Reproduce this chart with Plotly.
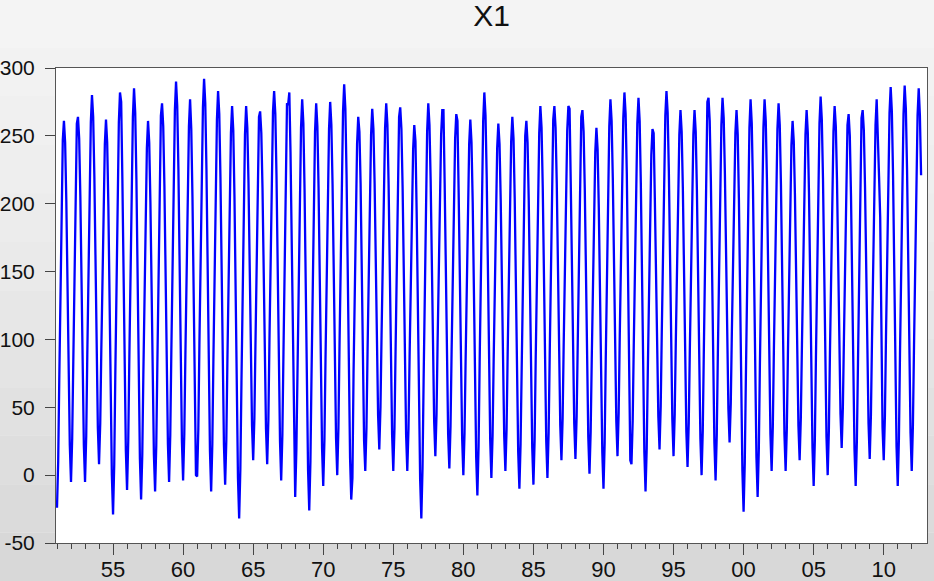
import pandas as pd
import plotly.graph_objects as go

# Monthly values of X1 (1951M01 - 2012M09)
x1_1951_1960 = [
    -24, 10, 70, 138, 198, 247, 261, 245, 202, 141, 75, 22,
    -5, 27, 84, 148, 205, 259, 264, 248, 205, 143, 76, 22,
    -5, 29, 89, 157, 217, 260, 280, 264, 220, 158, 90, 35,
    8, 38, 92, 153, 206, 244, 262, 245, 198, 131, 58, 0,
    -29, 8, 74, 148, 214, 260, 282, 275, 218, 150, 77, 18,
    -11, 25, 87, 158, 220, 264, 285, 267, 218, 149, 73, 12,
    -18, 15, 74, 141, 200, 241, 261, 245, 201, 138, 70, 15,
    -12, 22, 82, 151, 211, 265, 274, 257, 213, 148, 79, 23,
    -5, 30, 92, 163, 225, 269, 290, 272, 225, 158, 84, 25,
    -4, 30, 89, 156, 215, 257, 277, 255, 205, 140, 70, 0,
]
x1_1961_1970 = [
    -1, 34, 96, 166, 228, 271, 292, 274, 225, 155, 79, 18,
    -12, 23, 85, 156, 218, 262, 283, 266, 219, 152, 80, 22,
    -7, 26, 85, 152, 211, 252, 272, 254, 205, 135, 59, -2,
    -32, 4, 68, 141, 205, 251, 272, 256, 215, 155, 89, 37,
    11, 42, 96, 157, 211, 264, 268, 252, 211, 151, 86, 34,
    8, 41, 99, 165, 223, 268, 283, 266, 220, 154, 82, 25,
    -4, 30, 90, 159, 230, 274, 273, 282, 238, 165, 85, 15,
    -16, 19, 81, 151, 213, 256, 277, 259, 210, 141, 65, 4,
    -26, 10, 73, 145, 208, 253, 274, 257, 212, 147, 77, 20,
    -8, 26, 85, 153, 213, 255, 275, 258, 214, 151, 82, 27,
]
x1_1971_1980 = [
    0, 35, 95, 164, 225, 268, 288, 270, 221, 150, 74, 13,
    -18, -2, 75, 143, 202, 244, 264, 253, 215, 150, 85, 25,
    3, 35, 91, 155, 211, 251, 270, 255, 215, 157, 94, 44,
    19, 50, 103, 164, 218, 256, 274, 258, 214, 152, 84, 30,
    3, 35, 91, 156, 212, 264, 271, 255, 212, 150, 83, 30,
    3, 34, 87, 148, 202, 240, 258, 246, 194, 127, 55, -3,
    -32, 5, 69, 142, 207, 253, 274, 258, 217, 157, 92, 40,
    14, 45, 98, 159, 213, 251, 269, 269, 215, 152, 85, 30,
    5, 36, 91, 154, 209, 248, 266, 261, 208, 146, 80, 27,
    0, 31, 86, 149, 204, 244, 262, 245, 201, 137, 68, 13,
]
x1_1981_1990 = [
    -15, 21, 83, 154, 217, 261, 282, 265, 220, 154, 83, 26,
    -2, 29, 84, 147, 202, 241, 259, 244, 203, 144, 80, 29,
    3, 34, 89, 152, 207, 246, 264, 248, 204, 141, 72, 17,
    -10, 23, 79, 144, 201, 250, 261, 245, 202, 140, 73, 20,
    -7, 26, 85, 152, 211, 252, 272, 256, 212, 149, 80, 25,
    -2, 31, 88, 154, 212, 262, 272, 256, 215, 155, 89, 37,
    11, 42, 97, 160, 215, 254, 272, 270, 215, 155, 90, 38,
    12, 43, 97, 158, 212, 264, 269, 253, 210, 148, 81, 28,
    1, 32, 85, 146, 200, 238, 256, 240, 197, 136, 70, 17,
    -10, 24, 85, 154, 214, 257, 277, 261, 219, 159, 93, 40,
]
x1_1991_2000 = [
    14, 46, 102, 167, 223, 263, 282, 266, 222, 159, 90, 11,
    8, 40, 97, 162, 219, 259, 278, 261, 214, 147, 75, 17,
    -12, 20, 76, 140, 196, 236, 255, 252, 203, 149, 90, 43,
    19, 51, 106, 169, 225, 265, 283, 267, 224, 162, 95, 41,
    14, 45, 98, 159, 213, 251, 269, 253, 211, 151, 85, 32,
    6, 38, 93, 156, 211, 251, 269, 253, 210, 148, 81, 27,
    0, 33, 92, 158, 217, 275, 278, 261, 216, 151, 81, 24,
    -4, 30, 89, 157, 216, 258, 278, 263, 222, 164, 100, 49,
    24, 53, 105, 164, 215, 252, 269, 251, 204, 136, 62, 3,
    -27, 9, 73, 146, 210, 256, 277, 259, 213, 145, 72, 13,
]
x1_2001_2012 = [
    -16, 19, 81, 151, 213, 256, 277, 261, 217, 154, 85, 30,
    3, 36, 92, 157, 214, 255, 274, 258, 214, 152, 84, 30,
    3, 34, 88, 150, 204, 243, 261, 246, 206, 149, 86, 36,
    11, 42, 96, 158, 212, 251, 269, 252, 208, 144, 75, 20,
    -8, 26, 87, 156, 216, 259, 279, 262, 218, 153, 84, 28,
    0, 33, 90, 155, 212, 253, 272, 257, 217, 159, 96, 45,
    20, 50, 101, 160, 212, 258, 266, 250, 206, 143, 74, 19,
    -8, 25, 83, 150, 208, 263, 269, 254, 212, 153, 89, 38,
    12, 44, 99, 163, 219, 258, 277, 255, 220, 190, 105, 35,
    11, 44, 102, 168, 226, 267, 286, 268, 221, 154, 80, 21,
    -8, 27, 89, 160, 222, 266, 287, 270, 225, 159, 88, 31,
    3, 37, 96, 164, 223, 265, 285, 265, 221,
]

start_month = "1951-01-01"
x_tick_years = [1955, 1960, 1965, 1970, 1975, 1980, 1985, 1990, 1995, 2000, 2005, 2010]
x_tick_labels = ["55", "60", "65", "70", "75", "80", "85", "90", "95", "00", "05", "10"]
y_tick_values = [-50, 0, 50, 100, 150, 200, 250, 300]
y_tick_labels = ["-50", "0", "50", "100", "150", "200", "250", "300"]

values = (x1_1951_1960 + x1_1961_1970 + x1_1971_1980 +
          x1_1981_1990 + x1_1991_2000 + x1_2001_2012)
dates = pd.date_range(start_month, periods=len(values), freq="MS")

fig = go.Figure()
fig.add_trace(go.Scatter(
    x=dates, y=values, mode="lines",
    line=dict(color="#0000ff", width=2.3),
    hoverinfo="x+y", showlegend=False,
))

# background: light grey gradient outside the white plot area
bands = ["#f4f4f4", "#f2f2f2", "#f0f0f0", "#eeeeee", "#ececec", "#eaeaea",
         "#e7e7e7", "#e4e4e4", "#e1e1e1", "#dedede", "#dbdbdb", "#d8d8d8"]
top, bot = 1.0 + 68 / 475, -38 / 475
n = len(bands)
for i, c in enumerate(bands):
    y1 = top - (top - bot) * i / n
    y0 = top - (top - bot) * (i + 1) / n
    fig.add_shape(type="rect", xref="paper", yref="paper",
                  x0=-56 / 870, x1=1 + 8 / 870, y0=y0, y1=y1,
                  fillcolor=c, line=dict(width=0), layer="below")
fig.add_shape(type="rect", xref="paper", yref="paper", x0=0, x1=1, y0=0, y1=1,
              fillcolor="white", line=dict(width=0), layer="below")

major_ticks = [pd.Timestamp(f"{y}-01-01") for y in x_tick_years]
minor_ticks = [pd.Timestamp(f"{y}-01-01") for y in range(dates[0].year, dates[-1].year + 1)]

fig.update_layout(
    width=934, height=581, autosize=False,
    margin=dict(l=56, r=7, t=68, b=38, pad=0),
    paper_bgcolor="#f0f0f0", plot_bgcolor="white",
    font=dict(family="Arial, Liberation Sans, sans-serif", color="#111111"),
    title=dict(text="X1", x=0.5, xref="paper", y=1 - 15 / 581, yref="container",
               yanchor="middle", xanchor="center",
               font=dict(size=30, color="#111111")),
    xaxis=dict(
        range=[pd.Timestamp("1950-12-06"), pd.Timestamp("2013-02-02")],
        tickmode="array", tickvals=major_ticks, ticktext=x_tick_labels,
        ticks="outside", ticklen=11, tickwidth=1, tickcolor="#444444",
        tickfont=dict(size=22), showgrid=False, zeroline=False,
        showline=True, linecolor="#555555", linewidth=1, mirror=True,
        ticklabelstandoff=-4, automargin=False,
        minor=dict(tickmode="array", tickvals=minor_ticks, ticks="outside",
                   ticklen=5, tickwidth=1, tickcolor="#444444", showgrid=False),
    ),
    yaxis=dict(
        range=[-50, 300],
        tickmode="array", tickvals=y_tick_values, ticktext=y_tick_labels,
        ticks="outside", ticklen=10, tickwidth=1, tickcolor="#444444",
        tickfont=dict(size=21), showgrid=False, zeroline=False,
        showline=True, linecolor="#555555", linewidth=1, mirror=True,
        ticklabelstandoff=6, automargin=False,
    ),
)

fig.write_html(
    "out.html",
    config={"displayModeBar": False},
    post_script="document.body.style.margin='0';document.body.style.padding='0';"
                "document.body.style.background='#f0f0f0';",
)
